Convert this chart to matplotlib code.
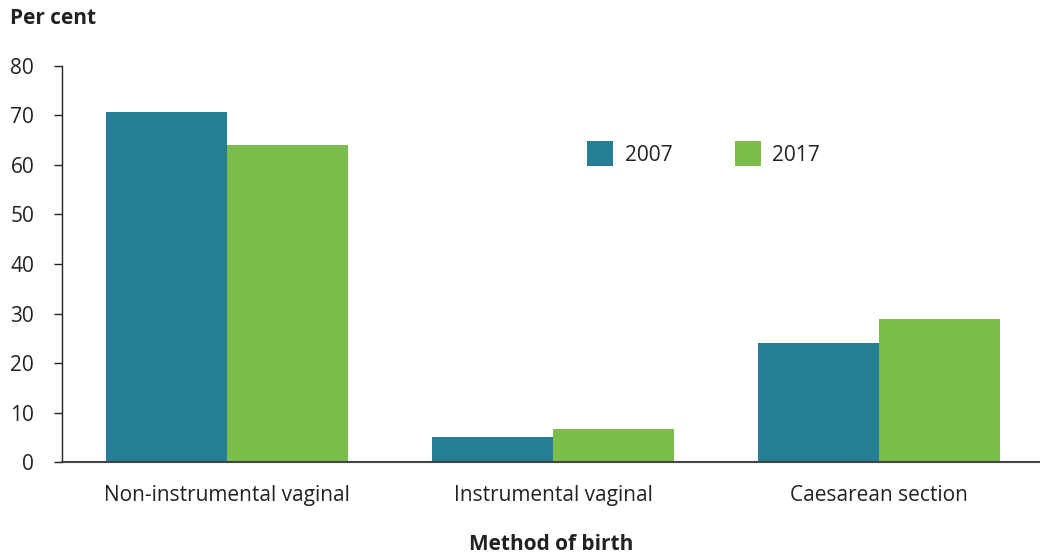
import matplotlib
matplotlib.use("Agg")
import matplotlib.pyplot as plt
import numpy as np

plt.rcParams['font.family'] = ['Open Sans', 'DejaVu Sans']

categories = ["Non-instrumental vaginal", "Instrumental vaginal", "Caesarean section"]
years = ["2007", "2017"]
values_2007 = [70.6, 5.1, 24.0]
values_2017 = [64.0, 6.7, 29.0]
yticks = [0, 10, 20, 30, 40, 50, 60, 70, 80]

teal = "#237E96"
green = "#7BBD4B"
text_color = "#222222"
fs = 15

fig = plt.figure(figsize=(10.4, 5.56), dpi=100)
ax = fig.add_axes([62 / 1040, 1 - 462.3 / 556, (1040 - 62) / 1040, (462.3 - 65.7) / 556])

x = np.arange(len(categories))
w = 0.371
ax.bar(x - w / 2, values_2007, width=w, color=teal, label=years[0])
ax.bar(x + w / 2, values_2017, width=w, color=green, label=years[1])

ax.set_xlim(-0.506, 2.494)
ax.set_ylim(0, 80)
ax.set_yticks(yticks)
ax.set_xticks(x)
ax.set_xticklabels(categories)

for s in ["top", "right"]:
    ax.spines[s].set_visible(False)
ax.spines["left"].set_color("#222222")
ax.spines["left"].set_linewidth(1.0)
ax.spines["bottom"].set_color("#444444")
ax.spines["bottom"].set_linewidth(1.5)

ax.tick_params(axis="y", direction="out", length=6, width=1.0, color="#222222",
               labelsize=fs, labelcolor=text_color, pad=14)
ax.tick_params(axis="x", length=0, labelsize=fs, labelcolor=text_color, pad=16)

fig.text(10 / 1040, 1 - 18 / 556, "Per cent", fontsize=fs, fontweight="bold",
         color=text_color, ha="left", va="center")
fig.text(551 / 1040, 1 - 545 / 556, "Method of birth", fontsize=fs, fontweight="bold",
         color=text_color, ha="center", va="center")

leg = ax.legend(loc="upper left", bbox_to_anchor=(587 / 1040, 1 - 141 / 556),
                bbox_transform=fig.transFigure, ncol=2, frameon=False,
                fontsize=fs, handlelength=1.25, handleheight=1.5,
                handletextpad=0.55, columnspacing=3.0, borderpad=0, borderaxespad=0)
for t in leg.get_texts():
    t.set_color(text_color)

fig.savefig("out.png", dpi=100)
